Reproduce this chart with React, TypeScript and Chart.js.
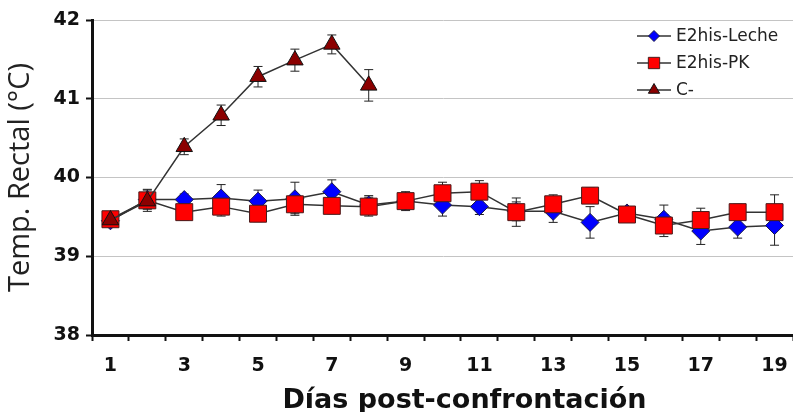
import React, { useEffect, useRef } from 'react';
import { Chart, registerables } from 'chart.js';
import { drawPoint } from 'chart.js/helpers';

Chart.register(...registerables);

const days = ['1', '2', '3', '4', '5', '6', '7', '8', '9', '10', '11', '12', '13', '14', '15', '16', '17', '18', '19'];

const lecheValues = [39.45, 39.72, 39.72, 39.74, 39.70, 39.73, 39.82, 39.65, 39.70, 39.65, 39.63, 39.57, 39.57, 39.43, 39.55, 39.47, 39.32, 39.37, 39.39];
const lecheErrors = [0.05, 0.12, 0.07, 0.17, 0.14, 0.21, 0.15, 0.12, 0.10, 0.14, 0.10, 0.12, 0.14, 0.20, 0.08, 0.18, 0.17, 0.14, 0.25];

const pkValues = [39.47, 39.71, 39.56, 39.63, 39.54, 39.66, 39.64, 39.63, 39.70, 39.80, 39.82, 39.56, 39.66, 39.77, 39.53, 39.39, 39.46, 39.56, 39.56];
const pkErrors = [0.06, 0.14, 0.10, 0.12, 0.10, 0.12, 0.10, 0.12, 0.12, 0.14, 0.14, 0.18, 0.12, 0.10, 0.10, 0.14, 0.15, 0.10, 0.22];

const cNegValues = [39.46, 39.70, 40.39, 40.79, 41.28, 41.49, 41.69, 41.17, null, null, null, null, null, null, null, null, null, null, null];
const cNegErrors = [0.05, 0.10, 0.10, 0.13, 0.13, 0.14, 0.12, 0.20, 0, 0, 0, 0, 0, 0, 0, 0, 0, 0, 0];

const yTicks = [38, 39, 40, 41, 42];
const xTitle = 'Días post-confrontación';
const yTitle = 'Temp. Rectal (°C)';

const errorBarsPlugin = {
  id: 'errorBars',
  beforeDatasetsDraw(chart: any) {
    const { ctx } = chart;
    const yScale = chart.scales.y;
    ctx.save();
    ctx.strokeStyle = '#222';
    ctx.lineWidth = 1;
    chart.data.datasets.forEach((ds: any, i: number) => {
      const meta = chart.getDatasetMeta(i);
      meta.data.forEach((pt: any, j: number) => {
        const v = ds.data[j];
        const e = ds.errors ? ds.errors[j] : 0;
        if (v == null || !e) return;
        const x = pt.x;
        const top = yScale.getPixelForValue(v + e);
        const bot = yScale.getPixelForValue(v - e);
        ctx.beginPath();
        ctx.moveTo(x, top);
        ctx.lineTo(x, bot);
        ctx.moveTo(x - 4.5, top);
        ctx.lineTo(x + 4.5, top);
        ctx.moveTo(x - 4.5, bot);
        ctx.lineTo(x + 4.5, bot);
        ctx.stroke();
      });
    });
    ctx.restore();
  },
};

const legendPlugin = {
  id: 'customLegend',
  afterDraw(chart: any) {
    const { ctx, chartArea } = chart;
    const x0 = chartArea.right - 156;
    const y0 = chartArea.top + 16;
    ctx.save();
    chart.data.datasets.forEach((ds: any, i: number) => {
      const y = y0 + i * 27;
      ctx.strokeStyle = '#333';
      ctx.lineWidth = 1.5;
      ctx.beginPath();
      ctx.moveTo(x0, y);
      ctx.lineTo(x0 + 34, y);
      ctx.stroke();
      ctx.fillStyle = ds.pointBackgroundColor;
      ctx.strokeStyle = ds.pointBorderColor;
      ctx.lineWidth = 1;
      drawPoint(ctx, { pointStyle: ds.pointStyle, radius: ds.legendRadius, rotation: 0, borderWidth: 1 } as any, x0 + 17, y);
      ctx.fillStyle = '#222';
      ctx.font = '17px "DejaVu Sans"';
      ctx.textBaseline = 'middle';
      ctx.textAlign = 'left';
      ctx.fillText(ds.label, x0 + 39, y + 1);
    });
    // x axis title
    ctx.fillStyle = '#111';
    ctx.font = 'bold 27px "DejaVu Sans"';
    ctx.textAlign = 'center';
    ctx.textBaseline = 'alphabetic';
    ctx.fillText(xTitle, (chartArea.left + chartArea.right) / 2 + 22, chart.height - 4);
    ctx.restore();
  },
};

export default function App() {
  const canvasRef = useRef<HTMLCanvasElement | null>(null);

  useEffect(() => {
    const canvas = canvasRef.current;
    if (!canvas) return;
    const chart = new Chart(canvas, {
      type: 'line',
      data: {
        labels: days,
        datasets: [
          {
            label: 'E2his-Leche',
            data: lecheValues,
            errors: lecheErrors,
            borderColor: '#333',
            borderWidth: 1.5,
            pointStyle: 'rectRot',
            pointRadius: 9,
            legendRadius: 5.5,
            pointBackgroundColor: '#0000ff',
            pointBorderColor: '#1a1a4a',
            pointBorderWidth: 1,
            order: 3,
          },
          {
            label: 'E2his-PK',
            data: pkValues,
            errors: pkErrors,
            borderColor: '#333',
            borderWidth: 1.5,
            pointStyle: 'rect',
            pointRadius: 12,
            legendRadius: 8,
            pointBackgroundColor: '#ff0000',
            pointBorderColor: '#4a1a1a',
            pointBorderWidth: 1,
            order: 2,
          },
          {
            label: 'C-',
            data: cNegValues,
            errors: cNegErrors,
            borderColor: '#333',
            borderWidth: 1.5,
            pointStyle: 'triangle',
            pointRadius: 9.5,
            legendRadius: 6.5,
            pointBackgroundColor: '#8b0000',
            pointBorderColor: '#111',
            pointBorderWidth: 1,
            spanGaps: false,
            order: 1,
          },
        ] as any,
      },
      options: {
        animation: false,
        responsive: false,
        maintainAspectRatio: false,
        layout: { autoPadding: false, padding: { top: 20, right: 0, bottom: 0, left: 0 } },
        plugins: {
          legend: { display: false },
          tooltip: { enabled: false },
        },
        scales: {
          x: {
            type: 'category',
            offset: true,
            grid: {
              offset: true,
              drawOnChartArea: false,
              drawTicks: true,
              tickLength: 6,
              tickColor: '#111',
              tickWidth: 2,
            },
            border: { color: '#111', width: 3 },
            ticks: {
              autoSkip: false,
              maxRotation: 0,
              padding: 14,
              color: '#111',
              font: { family: '"DejaVu Sans"', size: 19, weight: 'bold' },
              callback: (_v: any, idx: number) => (idx % 2 === 0 ? days[idx] : ''),
            },
            title: { display: false },
            afterFit: (scale: any) => {
              scale.height = 77;
              scale.paddingLeft = 0;
              scale.paddingRight = 0;
            },
          },
          y: {
            min: 38,
            max: 42,
            afterBuildTicks: (scale: any) => {
              scale.ticks = yTicks.map((v) => ({ value: v }));
            },
            grid: {
              color: '#c4c4c4',
              lineWidth: 1,
              drawTicks: true,
              tickLength: 6,
              tickColor: '#111',
              tickWidth: 2,
            },
            border: { color: '#111', width: 3 },
            ticks: {
              padding: 6,
              color: '#111',
              font: { family: '"DejaVu Sans"', size: 19, weight: 'bold' },
            },
            title: {
              display: true,
              text: yTitle,
              color: '#222',
              font: { family: '"Open Sans"', size: 29, weight: 'normal' },
              padding: { top: 3, bottom: 0 },
            },
            afterFit: (scale: any) => {
              scale.width = 92;
            },
          },
        },
      } as any,
      plugins: [errorBarsPlugin, legendPlugin],
    });
    return () => chart.destroy();
  }, []);

  return (
    <div style={{ position: 'fixed', left: 0, top: 0, width: 793, height: 412, background: '#fff' }}>
      <canvas ref={canvasRef} width={793} height={412} style={{ width: 793, height: 412 }} />
    </div>
  );
}
